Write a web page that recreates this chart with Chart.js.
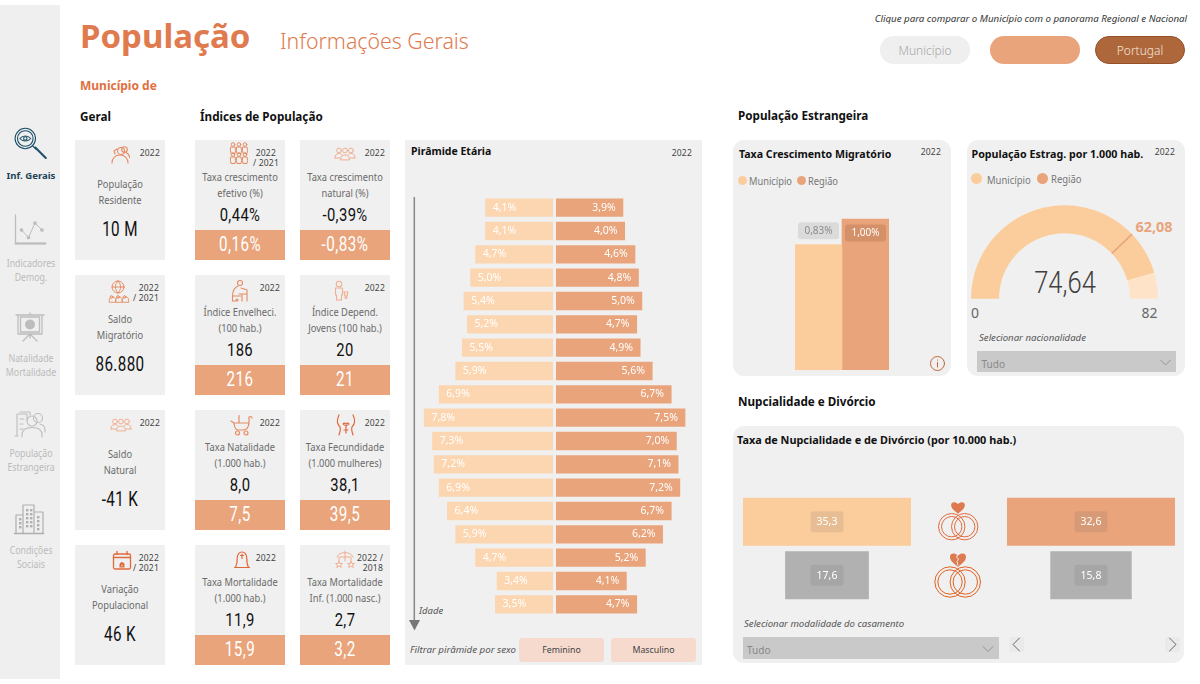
<!DOCTYPE html>
<html lang="pt"><head><meta charset="utf-8">
<script src="https://cdn.jsdelivr.net/npm/chart.js@4"></script>
<style>
html,body{margin:0;padding:0;background:#fff;width:1200px;height:684px;overflow:hidden}
body{font-family:"Noto Sans",sans-serif;position:relative}
.b{position:absolute}
.t{position:absolute;white-space:nowrap;line-height:1}
canvas{position:absolute;display:block}
svg{position:absolute;left:0;top:0}
</style></head><body>
<div id="root"></div>
<canvas id="pyrL" style="left:405px;top:196px;width:148px;height:420px" width="148" height="420"></canvas>
<canvas id="pyrR" style="left:556px;top:196px;width:146px;height:420px" width="146" height="420"></canvas>
<canvas id="mig" style="left:795px;top:200px;width:94px;height:170px" width="94" height="170"></canvas>
<canvas id="gauge" style="left:971px;top:205px;width:187px;height:94px" width="187" height="94"></canvas>
<canvas id="nupL" style="left:743px;top:495px;width:168px;height:107px" width="168" height="107"></canvas>
<canvas id="nupR" style="left:1007px;top:495px;width:168px;height:107px" width="168" height="107"></canvas>
<svg id="ic" width="1200" height="684" viewBox="0 0 1200 684" fill="none"></svg>
<script>
/* ---------- data ---------- */
const ageGroups = ['0-4','5-9','10-14','15-19','20-24','25-29','30-34','35-39','40-44','45-49','50-54','55-59','60-64','65-69','70-74','75-79','80-84','85+'];
const feminino  = [4.1,4.1,4.7,5.0,5.4,5.2,5.5,5.9,6.9,7.8,7.3,7.2,6.9,6.4,5.9,4.7,3.4,3.5];
const masculino = [3.9,4.0,4.6,4.8,5.0,4.7,4.9,5.6,6.7,7.5,7.0,7.1,7.2,6.7,6.2,5.2,4.1,4.7];
const migLabels = ['Município','Região'];
const migValues = [0.83,1.00];
const gaugeValue = 74.64, gaugeMax = 82, gaugeTarget = 62.08;
const nupCategories = ['Nupcialidade','Divórcio'];
const nupMunicipio = [35.3,17.6];
const nupRegiao = [32.6,15.8];
const geralCards = [
 {label:['População','Residente'],value:'10 M',year:['2022']},
 {label:['Saldo','Migratório'],value:'86.880',year:['2022','/ 2021']},
 {label:['Saldo','Natural'],value:'-41 K',year:['2022']},
 {label:['Variação','Populacional'],value:'46 K',year:['2022','/ 2021']}];
const indiceCards = [
 {label:['Taxa crescimento','efetivo (%)'],value:'0,44%',ref:'0,16%',year:['2022','/ 2021']},
 {label:['Taxa crescimento','natural (%)'],value:'-0,39%',ref:'-0,83%',year:['2022']},
 {label:['Índice Envelheci.','(100 hab.)'],value:'186',ref:'216',year:['2022']},
 {label:['Índice Depend.','Jovens (100 hab.)'],value:'20',ref:'21',year:['2022']},
 {label:['Taxa Natalidade','(1.000 hab.)'],value:'8,0',ref:'7,5',year:['2022']},
 {label:['Taxa Fecundidade','(1.000 mulheres)'],value:'38,1',ref:'39,5',year:['2022']},
 {label:['Taxa Mortalidade','(1.000 hab.)'],value:'11,9',ref:'15,9',year:['2022']},
 {label:['Taxa Mortalidade','Inf. (1.000 nasc.)'],value:'2,7',ref:'3,2',year:['2022 /','2018']}];
const navItems = [
 {lines:['Indicadores','Demog.'],y:263},{lines:['Natalidade','Mortalidade'],y:357.5},
 {lines:['População','Estrangeira'],y:453},{lines:['Condições','Sociais'],y:549.5}];

/* ---------- colours ---------- */
const PEACH='#FCD6B0', PEACH2='#FCCD9C', ORANGE='#E9A47B', GREY='#B1B1B1', CARD='#F0F0F0', HEAD='#DF7B4F';
const VAL='Roboto,"Noto Sans",sans-serif';

/* ---------- html helpers ---------- */
const root=document.getElementById('root');
function box(x,y,w,h,bg,r,extra){const d=document.createElement('div');d.className='b';
 d.style.cssText=`left:${x}px;top:${y}px;width:${w}px;height:${h}px;background:${bg};border-radius:${r||0}px;${extra||''}`;root.appendChild(d);return d;}
function txt(s,x,y,size,color,o){o=o||{};const d=document.createElement('div');d.className='t';d.textContent=s;
 const tx=o.align==='c'?'-50%':(o.align==='r'?'-100%':'0');
 const org=o.align==='c'?'center':(o.align==='r'?'right':'left');
 d.style.cssText=`left:${x}px;top:${y}px;transform:translate(${tx},-50%) scaleX(${o.sx||1});transform-origin:${org} center;font-size:${size}px;color:${color};font-weight:${o.w||400};font-style:${o.i?'italic':'normal'};font-family:${o.f||'"Noto Sans",sans-serif'};letter-spacing:${o.ls||0}px;`;
 root.appendChild(d);return d;}

/* ---------- frame ---------- */
box(0,5,60,674,'#EFEFEF');
txt('População',80,35,33,HEAD,{w:700});
txt('Informações Gerais',280,41,21.3,HEAD,{w:300});
txt('Município de',80,86,12,'#E06F3F',{w:700});
txt('Clique para comparar o Município com o panorama Regional e Nacional',1187,19,9.7,'#333',{i:1,align:'r'});
box(880,36,90,28,'#EFEFEF',14);txt('Município',925,50.5,12,'#A6A6A6',{align:'c',w:300});
box(990,36,90,28,ORANGE,14);
box(1095,36,90,28,'#AE673B',14,'box-sizing:border-box;border:1px solid #93502A;');txt('Portugal',1140,50.5,12,'#F5E6DC',{align:'c',w:300});
txt('Geral',80,116.5,11.7,'#111',{w:700});
txt('Índices de População',200,116.5,11.7,'#111',{w:700});
txt('População Estrangeira',738,115.5,11.7,'#111',{w:700});
txt('Nupcialidade e Divórcio',738,401.5,11.7,'#111',{w:700});

/* nav */
txt('Inf. Gerais',31,175.5,9.6,'#1D4359',{w:700,align:'c'});
navItems.forEach(n=>n.lines.forEach((l,i)=>txt(l,31,n.y+i*14,10,'#BBBBBB',{align:'c',sx:.88})));

/* geral */
const rowY=[140,275,410,545];
const geralYearRight=[160,159,160,159];
geralCards.forEach((c,i)=>{const y=rowY[i];
 box(75,y,90,120,CARD);
 c.label.forEach((l,k)=>txt(l,120,y+44+k*16,10,'#6A6A6A',{align:'c',sx:.93}));
 txt(c.value,120,y+89.5,19.5,'#111',{align:'c',f:VAL,ls:.5,sx:.78});
 c.year.forEach((l,k)=>txt(l,geralYearRight[i],y+13-(c.year.length>1?.5:0)+k*10,8.6,'#444',{align:'r',ls:.15}));
});
/* indices */
const colX=[195,300];
const yearRight=[[276,385],[280,385],[280,385],[276,383]];
indiceCards.forEach((c,i)=>{const col=i%2,row=(i-col)/2,x=colX[col],y=rowY[row],cx=x+45;
 box(x,y,90,120,CARD);
 box(x,y+89.5,90,30.5,ORANGE);
 c.label.forEach((l,k)=>txt(l,cx,y+37+k*16,10,'#6A6A6A',{align:'c',sx:.93}));
 txt(c.value,cx,y+74.8,18.5,'#111',{align:'c',f:VAL,ls:.5,sx:.8});
 txt(c.ref,cx,y+104.5,19.5,'#fff',{align:'c',f:VAL,ls:.6,sx:.78});
 c.year.forEach((l,k)=>txt(l,yearRight[row][col]+(k&&c.year.length>1&&col===0?3:0),y+13-(c.year.length>1?.5:0)+k*10,8.6,'#444',{align:'r',ls:.15}));
});

/* pyramid card */
box(405,140,297,525,CARD);
txt('Pirâmide Etária',411,151,10.5,'#111',{w:700});
txt('2022',692,153,8.6,'#444',{align:'r',ls:.15});
txt('Idade',419,611,9.5,'#555',{i:1});
txt('Filtrar pirâmide por sexo',410,650,9.7,'#555',{i:1});
box(519,638,85,24,'#F6DACD',3);txt('Feminino',561.5,650,8.8,'#444',{align:'c'});
box(611,638,85,24,'#F6DACD',3);txt('Masculino',653.5,650,8.8,'#444',{align:'c'});

/* cards right */
box(733,140,218,236,CARD,11);
txt('Taxa Crescimento Migratório',739,153.5,10.6,'#111',{w:700});
txt('2022',941,152,8.6,'#444',{align:'r',ls:.15});
box(737.5,175.5,9,9,PEACH2,5);txt(migLabels[0],748.5,180.5,10,'#777',{sx:.93});
box(796.5,175.5,9,9,ORANGE,5);txt(migLabels[1],807.5,180.5,10,'#777',{sx:.93});

box(967,140,218,236,CARD,11);
txt('População Estrag. por 1.000 hab.',971.5,153.5,10.7,'#111',{w:700});
txt('2022',1175,152,8.6,'#444',{align:'r',ls:.15});
box(970.5,173,11,11,PEACH2,6);txt(migLabels[0],986.5,179.5,10.5,'#777',{sx:.9});
box(1037,173,11,11,ORANGE,6);txt(migLabels[1],1051,178.5,10.5,'#777',{sx:.9});
txt('0',975,313,14,'#666',{align:'c'});
txt(String(gaugeMax),1149.5,313,14,'#666',{align:'c'});
txt('Selecionar nacionalidade',979,337.5,9.6,'#555',{i:1});
box(977,351,199,21,'#C9C9C9');txt('Tudo',981.5,364,10,'#888');

box(733,426,451,237,CARD,11);
txt('Taxa de Nupcialidade e de Divórcio (por 10.000 hab.)',737,440,10.85,'#111',{w:700});
txt('Selecionar modalidade do casamento',744,623.5,9.6,'#555',{i:1});
box(742.5,637,256,22,'#C9C9C9');txt('Tudo',747,650,10,'#888');
box(1009,637,15,15,'#EAEAEA');box(1165,637,15,15,'#EAEAEA');

/* ---------- chart.js ---------- */
function rr(ctx,x,y,w,h,r,fill){ctx.beginPath();ctx.roundRect(x,y,w,h,r);ctx.fillStyle=fill;ctx.fill();}
const barLabels={id:'barLabels',afterDatasetsDraw(chart,_,o){
 const ctx=chart.ctx;ctx.save();ctx.textBaseline='middle';
 chart.data.datasets.forEach((ds,di)=>{chart.getDatasetMeta(di).data.forEach((el,i)=>{
   const raw=ds.data[i];o.draw(ctx,el,raw,di,i);});});
 ctx.restore();}};
const base={responsive:false,animation:false,layout:{padding:0},events:[]};
const fmt1=v=>v.toFixed(1).replace('.',',');
function fmt2(v){return v.toFixed(2).replace('.',',');}
function pyramid(id,vals,color,pxPerPct,w,rev){
 new Chart(document.getElementById(id),{type:'bar',plugins:[barLabels],
  data:{labels:ageGroups,datasets:[{data:vals,backgroundColor:color,barPercentage:.785,categoryPercentage:1}]},
  options:{...base,indexAxis:'y',
   scales:{x:{display:false,min:0,max:w/pxPerPct,reverse:rev},y:{display:false}},
   plugins:{legend:{display:false},tooltip:{enabled:false},
    barLabels:{draw(ctx,el,v){ctx.font='10.5px "Noto Sans"';ctx.fillStyle='#fff';
      if(rev){ctx.textAlign='left';ctx.fillText(fmt1(v)+'%',el.x+7.5,el.y);}
      else{ctx.textAlign='right';ctx.fillText(fmt1(v)+'%',el.x-7.5,el.y);}}}}}});
}
pyramid('pyrL',feminino,PEACH,16.55,148,true);
pyramid('pyrR',masculino,ORANGE,17.25,146,false);

new Chart(document.getElementById('mig'),{type:'bar',plugins:[barLabels],
 data:{labels:['Taxa'],datasets:[
  {label:migLabels[0],data:[migValues[0]],backgroundColor:PEACH2,barPercentage:1,categoryPercentage:1},
  {label:migLabels[1],data:[migValues[1]],backgroundColor:ORANGE,barPercentage:1,categoryPercentage:1}]},
 options:{...base,scales:{x:{display:false},y:{display:false,min:0,max:170/151}},
  plugins:{legend:{display:false},tooltip:{enabled:false},
   barLabels:{draw(ctx,el,v,di){const s=v.toFixed(2).replace('.',',')+'%';
     ctx.font='10px "Noto Sans"';ctx.textAlign='center';
     if(di===0){rr(ctx,el.x-20.5,el.y-22.5,41,17,3,'#DBDBDB');ctx.fillStyle='#8C8C8C';ctx.fillText(s,el.x,el.y-13.5);}
     else{rr(ctx,el.x-20.5,el.y+5.5,41,17,3,'#D49069');ctx.fillStyle='#fff';ctx.fillText(s,el.x,el.y+14.5);}}}}}});

const gaugeMark={id:'gaugeMark',afterDatasetsDraw(chart){
 const a=chart.getDatasetMeta(0).data[0],ctx=chart.ctx;
 const ang=Math.PI+Math.PI*gaugeTarget/gaugeMax;
 ctx.save();ctx.strokeStyle=ORANGE;ctx.lineWidth=1.6;ctx.beginPath();
 ctx.moveTo(a.x+Math.cos(ang)*a.innerRadius,a.y+Math.sin(ang)*a.innerRadius);
 ctx.lineTo(a.x+Math.cos(ang)*a.outerRadius,a.y+Math.sin(ang)*a.outerRadius);ctx.stroke();ctx.restore();}};
new Chart(document.getElementById('gauge'),{type:'doughnut',plugins:[gaugeMark],
 data:{labels:['Valor','Restante'],datasets:[{data:[gaugeValue,gaugeMax-gaugeValue],backgroundColor:[PEACH2,'#FFE3C9'],borderWidth:0}]},
 options:{...base,rotation:-90,circumference:180,cutout:'70%',plugins:{legend:{display:false},tooltip:{enabled:false}}}});
txt(fmt2(gaugeValue),1064.5,282,32,'#404040',{align:'c',f:VAL,w:300,sx:.8});
txt(fmt2(gaugeTarget),1154,226,15,ORANGE,{align:'c',w:700,sx:.96});

function funnel(id,vals,topColor){
 const m=vals[0]/2;
 new Chart(document.getElementById(id),{type:'bar',plugins:[barLabels],
  data:{labels:nupCategories,datasets:[{data:vals.map(v=>[-v/2,v/2]),backgroundColor:[topColor,GREY],barPercentage:.9,categoryPercentage:1}]},
  options:{...base,indexAxis:'y',scales:{x:{display:false,min:-m,max:m},y:{display:false}},
   plugins:{legend:{display:false},tooltip:{enabled:false},
    barLabels:{draw(ctx,el,v){const cx=(el.x+el.base)/2;rr(ctx,cx-16.5,el.y-10.5,33,21,3,'rgba(90,90,90,.13)');
      ctx.font='10.5px "Noto Sans"';ctx.textAlign='center';ctx.fillStyle='#fff';ctx.fillText(fmt1(v[1]*2),cx,el.y+.5);}}}}});
}
funnel('nupL',nupMunicipio,PEACH2);
funnel('nupR',nupRegiao,ORANGE);

/* ---------- icons ---------- */
const OR='#E58B62',PL='#F0AE92',DK='#E0693A',NV='#BDBDBD',NV2='#1D5068';
function g(x,y,c,sw,inner){return `<g transform="translate(${x} ${y})" stroke="${c}" stroke-width="${sw}" stroke-linecap="round" stroke-linejoin="round">${inner}</g>`;}
function person(x,y,s){return `<circle cx="${x}" cy="${y}" r="${2*s}"/><path d="M${x-3.2*s} ${y+7*s}v-2c0-2 1.4-3 3.2-3s3.2 1 3.2 3v2z"/>`;}
function group3(){return `<circle cx="-6" cy="-3.5" r="2.4"/><circle cx="0" cy="-3.5" r="2.4"/><circle cx="6" cy="-3.5" r="2.4"/>
 <path d="M-10 4c0-3 1.5-4.5 4-4.5 1 0 2 .4 3 1.2M10 4c0-3-1.500-4.500-4-4.500-1 0-2 .4-3 1.200M-4.500 5.500c0-3 1.700-4.500 4.500-4.500s4.500 1.500 4.500 4.500zM-10 4h5M10 4h-5"/>`;}
let s='';
/* nav icons */
s+=g(25.3,138.5,NV2,1.1,`<circle r="10.2"/><circle r="7.8"/><path d="M-5.500 0c3-3.400 8-3.400 11 0c-3 3.400-8 3.400-11 0z"/><circle r="1.7"/><path d="M7.500 7.500l3 3"/><path d="M10 9l10.500 10.500" stroke-width="2"/>`);
s+=g(0,0,NV,1.3,`<path d="M15.500 215v28.500h30"/><path d="M15.500 243.500h30" stroke-width="2"/><path d="M21.500 230l7 7.500l6.500-14.500l7 7" stroke-width="1"/><circle cx="21.500" cy="230" r="1.200" fill="${NV}"/><circle cx="28.500" cy="237.500" r="1.200" fill="${NV}"/><circle cx="35" cy="223" r="1.200" fill="${NV}"/><circle cx="42" cy="230" r="1.200" fill="${NV}"/>`);
s+=g(0,0,NV,1.3,`<path d="M16 315h28M30 313v2M18 315v19h24v-19M20.500 317v15h19v-15zM30 334l-7 7M30 334l7 7M30 334v4"/><circle cx="30" cy="324.500" r="5" fill="${NV}" stroke="none"/>`);
s+=g(0,0,NV,1.1,`<path d="M18 436l-3 0M17 414h10v6M17 414v22M20 412h10v3M20 419h4M20 424h3M20 429h3"/><circle cx="32" cy="421" r="5"/><circle cx="38" cy="418" r="4.500"/><path d="M22 437v-2c0-5 4-7.500 10-7.500s10 2.500 10 7.500v2M40 424c3 .8 5 3 5 6v2"/>`);
s+=g(0,0,'#AFAFAF',1.2,`<path d="M14.500 533.500h29" stroke-width="1.500"/><path d="M16 533v-18h7M23 533v-28h11v28M34 512h9v21" fill="none"/>`);
for(const [a,b] of [[19,518],[19,522],[19,526],[26,509],[30,509],[26,513],[30,513],[26,517],[30,517],[26,521],[30,521],[26,525],[30,525],[37,516],[37,520],[37,524],[37,528]]) s+=`<rect x="${a}" y="${b}" width="2.400" height="2.400" fill="#AFAFAF"/>`;
/* KPI icons */
s+=g(120,155,OR,1.1,`<circle cx="1" cy="-4" r="3.500"/><circle cx="4.500" cy="-5.500" r="2.800"/><path d="M-8 8c0-5 3.500-8 8-8s8 3 8 8M-5 -1l-1-3l3-2M6 -2.500c2 1 3.500 3 3.500 5"/>`);
let pl='';for(const dx of [-6,0,6]) for(const dy of [-7,3]) pl+=`<circle cx="${dx}" cy="${dy-2.500}" r="1.800"/><path d="M${dx-2} ${dy}h4l.6 3.500l-.6 3h-4l-.6-3z"/>`;
s+=g(239,154,OR,1,pl);
s+=g(345,154,PL,1,group3());
s+=g(118,287,OR,1,`<circle cx="0" cy="0" r="6"/><path d="M-6 0h12M0 -6c-3.500 3.500-3.500 8.500 0 12M0 -6c3.500 3.500 3.500 8.500 0 12"/>`);
s+=g(118,297,OR,.9,person(-6.5,0,.7)+person(0,0,.7)+person(6.5,0,.7));
s+=g(240,291,OR,1.1,`<circle cx="0" cy="-8" r="2.500"/><path d="M-2 -5c-4 2-5.500 6-5.500 10v5M-7.500 5h8M1 -3l6 2v11M-1 3h8M2 3v7M-7.500 10h3"/><circle cx="-3" cy="9" r="1"/>`);
s+=g(341,291,PL,1.1,`<circle cx="-2" cy="-7" r="2.800"/><path d="M-5.500 -3h7v7h-1v5h-5v-5h-1zM3 1h4l-1 4h-2z"/><circle cx="5" cy="6.500" r="1"/>`);
s+=g(121,425,PL,1,group3());
s+=g(241,425,OR,1.2,`<path d="M-7 -2h15v-6c3-1 3 1 3 1M-10 -4l3 2c.5 5 2 7 4 7h5c3 0 5.500-2 6-7M-2 -9.500v7.500"/><circle cx="-3.500" cy="8" r="2"/><circle cx="5" cy="8" r="2"/>`);
s+=g(346,425,DK,1.2,`<path d="M-7 -10c-3 6-1 10 1 12c1 2 0 5-1 8M7 -10c3 6 1 10-1 12c-1 2 0 5 1 8M-3 -1c1.500 2 4.500 2 6 0M-3 -1c1 -1.500 2-1 3 0c1-1 2-1.500 3 0M0 1v7M-2 5h4"/>`);
s+=g(122,560,DK,1.3,`<rect x="-8.500" y="-6" width="17" height="15" rx="1.500"/><path d="M-8.500 -2.500h17M-5 -8.500v3M5 -8.500v3M-2 7l2-4l2 4M0 3a2 2 0 1 0 .01 0"/>`);
s+=g(242,559,DK,1.2,`<path d="M-7.500 8.500h15M-6.500 8.500c1.500-3 1.800-7 1.800-10c0-3 2-5.500 4.700-5.500s4.700 2.500 4.700 5.500c0 3 .3 7 1.800 10M0 -5v4.500M-1.500 -3.500h3"/>`);
s+=g(345,560,PL,1,`<path d="M-8 -3c2-6 14-6 16 0M0 -9v6M-5 -3h10M0 -3v4M-6 -3v3M6 -3v3"/><path d="M-6 1l1 2.500h2.500l-2 1.500l.8 2.500l-2.300-1.500l-2.300 1.500l.8-2.500l-2-1.500h2.500zM6 1l1 2.500h2.500l-2 1.500l.8 2.500l-2.300-1.500l-2.300 1.500l.8-2.500l-2-1.500h2.500z"/>`);
/* chevrons + info */
s+=g(1165.5,362,'#888',.8,`<path d="M-5 -2l5 5l5-5"/>`);
s+=g(988,648.5,'#888',.8,`<path d="M-5 -2l5 5l5-5"/>`);
s+=g(1016.500,644.500,'#555',.9,`<path d="M3 -6.500l-6.500 6.500l6.500 6.500"/>`);
s+=g(1172.500,644.500,'#555',.9,`<path d="M-3 -6.500l6.500 6.500l-6.500 6.500"/>`);
s+=g(937.500,363.500,'#C0673A',1,`<circle r="7"/><path d="M0 -1v4.500M0 -3.500v.2"/>`);
/* age arrow */
s+=`<path d="M414.300 197V620" stroke="#888" stroke-width="1.500"/><path d="M409 620h11l-5.500 10.500z" fill="#777"/>`;
/* rings */
function heart(x,y,k,broken){return `<path transform="translate(${x} ${y}) scale(${k})" d="M0 7C-3 4-7 2-7 -2C-7 -5-3 -6 0 -3C3 -6 7 -5 7 -2C7 2 3 4 0 7z" fill="#DE7A50" stroke="none"/>`+(broken?`<path transform="translate(${x} ${y})" d="M0 -5l-1.500 3l2 2l-1.500 2.500l1 4" stroke="#F0F0F0" stroke-width="1"/>`:'');}
function rings(x1,x2,y,r,c){let o='';for(const cx of [x1,x2]) o+=`<circle cx="${cx}" cy="${y}" r="${r}" stroke="${c}" stroke-width="1"/><circle cx="${cx}" cy="${y}" r="${r-3}" stroke="${c}" stroke-width="1"/>`;return o;}
s+=rings(951.700,964.700,526.700,13.200,'#E0693A')+heart(958,507,.98,false);
s+=rings(950,965.300,582,15.200,'#E0611F')+heart(958,559,1.150,true);
document.getElementById('ic').innerHTML=s;
</script>
</body></html>
